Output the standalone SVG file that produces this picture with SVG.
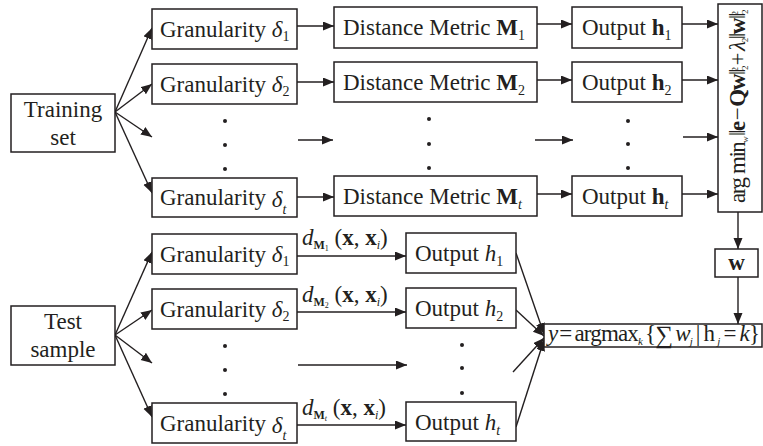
<svg xmlns="http://www.w3.org/2000/svg" width="763" height="446" viewBox="0 0 763 446" font-family="'Liberation Serif','Times New Roman',serif">
<style>
.box{fill:#fff;stroke:#231f20;stroke-width:1.5}
.ln{fill:none;stroke:#231f20;stroke-width:1.4;marker-end:url(#ah)}
text{font-family:"Liberation Serif","Times New Roman",serif;fill:#231f20;font-size:23px}
.it{font-style:italic}
.bd{font-weight:bold}
.dot{fill:#231f20}
</style>
<defs>
<marker id="ah" markerUnits="userSpaceOnUse" markerWidth="12" markerHeight="10" refX="11" refY="4.5" orient="auto">
<path d="M0,0 L11,4.5 L0,9 Z" fill="#231f20"/>
</marker>
</defs>
<rect width="763" height="446" fill="#fff"/>

<g id="connectors">
<line class="ln" x1="115" y1="112" x2="152" y2="28"/>
<line class="ln" x1="115" y1="112" x2="152" y2="84"/>
<line class="ln" x1="115" y1="112" x2="152" y2="137"/>
<line class="ln" x1="115" y1="112" x2="152" y2="193"/>
<line class="ln" x1="297" y1="26" x2="334" y2="26"/>
<line class="ln" x1="297" y1="82" x2="334" y2="82"/>
<line class="ln" x1="298" y1="140" x2="333" y2="140"/>
<line class="ln" x1="297" y1="197" x2="334" y2="197"/>
<line class="ln" x1="537" y1="24" x2="572" y2="24"/>
<line class="ln" x1="537" y1="80" x2="572" y2="80"/>
<line class="ln" x1="535" y1="140" x2="573" y2="140"/>
<line class="ln" x1="537" y1="194" x2="572" y2="194"/>
<line class="ln" x1="682" y1="24" x2="718" y2="24"/>
<line class="ln" x1="682" y1="80" x2="718" y2="80"/>
<line class="ln" x1="683" y1="137" x2="718" y2="137"/>
<line class="ln" x1="682" y1="194" x2="718" y2="194"/>
<line class="ln" x1="738" y1="212" x2="738" y2="249"/>
<line class="ln" x1="738" y1="277" x2="738" y2="324"/>
<line class="ln" x1="115" y1="335" x2="152" y2="252"/>
<line class="ln" x1="115" y1="335" x2="152" y2="310"/>
<line class="ln" x1="115" y1="335" x2="152" y2="363"/>
<line class="ln" x1="115" y1="335" x2="152" y2="417"/>
<line class="ln" x1="297" y1="256" x2="406" y2="256"/>
<line class="ln" x1="297" y1="312" x2="406" y2="312"/>
<line class="ln" x1="298" y1="365" x2="407" y2="365"/>
<line class="ln" x1="297" y1="425" x2="406" y2="425"/>
<line class="ln" x1="516" y1="253" x2="544" y2="334"/>
<line class="ln" x1="516" y1="310" x2="544" y2="336"/>
<line class="ln" x1="513" y1="372" x2="544" y2="338"/>
<line class="ln" x1="516" y1="427" x2="544" y2="340"/>
</g>

<g id="dots">
<circle class="dot" cx="225" cy="121" r="2"/><circle class="dot" cx="225" cy="145" r="2"/><circle class="dot" cx="225" cy="169" r="2"/>
<circle class="dot" cx="429" cy="119" r="2"/><circle class="dot" cx="429" cy="144" r="2"/><circle class="dot" cx="429" cy="168" r="2"/>
<circle class="dot" cx="628" cy="121" r="2"/><circle class="dot" cx="628" cy="144" r="2"/><circle class="dot" cx="628" cy="168" r="2"/>
<circle class="dot" cx="225" cy="346" r="2"/><circle class="dot" cx="225" cy="370" r="2"/><circle class="dot" cx="225" cy="394" r="2"/>
<circle class="dot" cx="462" cy="345" r="2"/><circle class="dot" cx="462" cy="368" r="2"/><circle class="dot" cx="462" cy="393" r="2"/>
</g>

<g id="training-set">
<rect class="box" x="11" y="94" width="104" height="58"/>
<text x="63" y="117" text-anchor="middle">Training</text>
<text x="63" y="145" text-anchor="middle">set</text>
</g>

<g id="gran-1">
<rect class="box" x="152" y="9" width="145" height="40"/>
<text x="160" y="37">Granularity <tspan class="it">δ</tspan><tspan font-size="14" y="41">1</tspan></text>
</g>
<g id="gran-2">
<rect class="box" x="152" y="64" width="145" height="40"/>
<text x="160" y="92">Granularity <tspan class="it">δ</tspan><tspan font-size="14" y="96">2</tspan></text>
</g>
<g id="gran-t">
<rect class="box" x="152" y="178" width="145" height="39"/>
<text x="160" y="205">Granularity <tspan class="it" y="207">δ</tspan><tspan class="it" font-size="14" y="214">t</tspan></text>
</g>

<g id="dm-1">
<rect class="box" x="334" y="7" width="203" height="41"/>
<text x="343" y="35">Distance Metric <tspan class="bd">M</tspan><tspan font-size="14" y="40">1</tspan></text>
</g>
<g id="dm-2">
<rect class="box" x="334" y="62" width="203" height="40"/>
<text x="343" y="90">Distance Metric <tspan class="bd">M</tspan><tspan font-size="14" y="95">2</tspan></text>
</g>
<g id="dm-t">
<rect class="box" x="334" y="176" width="203" height="40"/>
<text x="343" y="204">Distance Metric <tspan class="bd">M</tspan><tspan class="it" font-size="14" y="209">t</tspan></text>
</g>

<g id="out-1">
<rect class="box" x="572" y="7" width="110" height="41"/>
<text x="582" y="35">Output <tspan class="bd">h</tspan><tspan font-size="14" y="40">1</tspan></text>
</g>
<g id="out-2">
<rect class="box" x="572" y="62" width="110" height="40"/>
<text x="582" y="90">Output <tspan class="bd">h</tspan><tspan font-size="14" y="95">2</tspan></text>
</g>
<g id="out-t">
<rect class="box" x="572" y="176" width="110" height="40"/>
<text x="582" y="204">Output <tspan class="bd">h</tspan><tspan class="it" font-size="14" y="209">t</tspan></text>
</g>

<g id="optim">
<rect class="box" x="718" y="4" width="44" height="208"/>
<text transform="translate(745,106) rotate(-90)" x="-97" y="0" font-size="15" textLength="192" lengthAdjust="spacing">arg min<tspan class="it" font-size="9" dy="3">w</tspan><tspan dy="-3" dx="2">‖</tspan><tspan class="bd">e</tspan><tspan dx="2">−</tspan><tspan class="bd" dx="2">Qw</tspan>‖<tspan font-size="9" dy="3">2</tspan><tspan font-size="9" dx="-4.5" dy="-10">2</tspan><tspan dy="7" dx="3">+</tspan><tspan class="it" dx="3">λ</tspan><tspan font-size="9" dy="3">2</tspan><tspan dy="-3">‖</tspan><tspan class="bd">w</tspan>‖<tspan font-size="9" dy="3">2</tspan><tspan font-size="9" dx="-4.5" dy="-10">2</tspan></text>
</g>

<g id="weights">
<rect class="box" x="715" y="249" width="43" height="28"/>
<text x="736.5" y="270" text-anchor="middle" class="bd" font-size="21">w</text>
</g>

<g id="test-sample">
<rect class="box" x="11" y="306" width="104" height="59"/>
<text x="63" y="329" text-anchor="middle">Test</text>
<text x="63" y="357" text-anchor="middle">sample</text>
</g>

<g id="tgran-1">
<rect class="box" x="152" y="234" width="145" height="40"/>
<text x="160" y="262">Granularity <tspan class="it">δ</tspan><tspan font-size="14" y="266">1</tspan></text>
</g>
<g id="tgran-2">
<rect class="box" x="152" y="289" width="145" height="40"/>
<text x="160" y="317">Granularity <tspan class="it">δ</tspan><tspan font-size="14" y="321">2</tspan></text>
</g>
<g id="tgran-t">
<rect class="box" x="152" y="403" width="145" height="40"/>
<text x="160" y="431">Granularity <tspan class="it" y="433">δ</tspan><tspan class="it" font-size="14" y="440">t</tspan></text>
</g>

<g id="dlabels">
<text x="302" y="245" font-size="21"><tspan class="it">d</tspan><tspan class="bd" font-size="12" y="249">M</tspan><tspan font-size="8" y="251">1</tspan><tspan y="245"> (</tspan><tspan class="bd">x</tspan>, <tspan class="bd">x</tspan><tspan class="it" font-size="12" y="249">i</tspan><tspan y="245">)</tspan></text>
<text x="302" y="302" font-size="21"><tspan class="it">d</tspan><tspan class="bd" font-size="12" y="306">M</tspan><tspan font-size="8" y="308">2</tspan><tspan y="302"> (</tspan><tspan class="bd">x</tspan>, <tspan class="bd">x</tspan><tspan class="it" font-size="12" y="306">i</tspan><tspan y="302">)</tspan></text>
<text x="302" y="415" font-size="21"><tspan class="it">d</tspan><tspan class="bd" font-size="12" y="419">M</tspan><tspan class="it" font-size="8" y="421">t</tspan><tspan y="415"> (</tspan><tspan class="bd">x</tspan>, <tspan class="bd">x</tspan><tspan class="it" font-size="12" y="419">i</tspan><tspan y="415">)</tspan></text>
</g>

<g id="tout-1">
<rect class="box" x="406" y="233" width="110" height="40"/>
<text x="415" y="261">Output <tspan class="it">h</tspan><tspan font-size="14" y="266">1</tspan></text>
</g>
<g id="tout-2">
<rect class="box" x="406" y="288" width="110" height="40"/>
<text x="415" y="316">Output <tspan class="it">h</tspan><tspan font-size="14" y="321">2</tspan></text>
</g>
<g id="tout-t">
<rect class="box" x="406" y="402" width="110" height="39"/>
<text x="415" y="430">Output <tspan class="it">h</tspan><tspan class="it" font-size="14" y="435">t</tspan></text>
</g>

<g id="decision">
<rect class="box" x="544" y="324" width="218" height="23"/>
<text x="548" y="341" font-size="18" textLength="212" lengthAdjust="spacing"><tspan class="it">y</tspan><tspan dx="2">=</tspan><tspan dx="3">argmax</tspan><tspan class="it" font-size="11" dy="4">k</tspan><tspan dy="-4" dx="3">{</tspan><tspan font-size="25" dy="2">∑</tspan><tspan class="it" dx="3" dy="-2">w</tspan><tspan class="it" font-size="11" dy="4">j</tspan><tspan dx="4" dy="-4">|</tspan><tspan dx="4">h</tspan><tspan class="it" font-size="11" dx="3" dy="4">j</tspan><tspan dx="4" dy="-4">=</tspan><tspan class="it" dx="4">k</tspan>}</text>
</g>
</svg>
